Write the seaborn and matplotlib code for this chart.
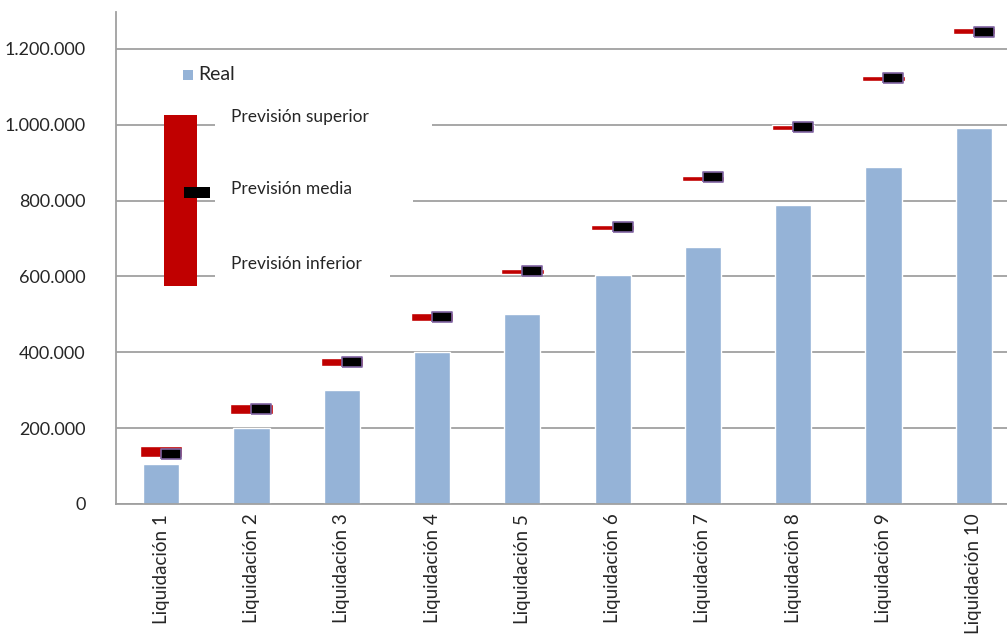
import numpy as np
import pandas as pd
import seaborn as sns
import matplotlib.pyplot as plt
from matplotlib.patches import Rectangle
from matplotlib.ticker import FuncFormatter

# data
categorias = ["Liquidación %d" % i for i in range(1, 11)]
real = [105000, 200000, 300000, 400000, 500000, 605000, 678000, 787000, 888000, 990000]
prev_superior = [153000, 264000, 385000, 504000, 620000, 736000, 865000, 1000000, 1129000, 1255000]
prev_inferior = [124000, 237000, 364000, 483000, 607000, 723000, 852000, 986000, 1115000, 1240000]
prev_media = [133000, 250000, 375000, 493000, 614000, 730000, 861000, 993000, 1122000, 1245000]

df = pd.DataFrame({"cat": categorias, "real": real})

sns.set_style("white")
plt.rcParams['font.family'] = ['Lato', 'DejaVu Sans']

W, H = 1007, 640
fig = plt.figure(figsize=(W / 100, H / 100), dpi=100)
ax = fig.add_axes([116 / W, 1 - 504 / H, (1019 - 116) / W, (504 - 12) / H])

def fx(px):
    return px / W

def fy(py):
    return 1 - py / H

sns.barplot(data=df, x="cat", y="real", color="#95B3D7", saturation=1, width=0.4, ax=ax, zorder=2)

x = np.arange(len(categorias))
alto = np.array(prev_superior) - np.array(prev_inferior)
ax.bar(x, alto, bottom=prev_inferior, width=0.47, color="#C00000", zorder=3)
caja = [(-1, -0.45), (1, -0.45), (1, 0.45), (-1, 0.45), (-1, -0.45)]
ax.plot(x + 0.11, prev_media, linestyle="none", marker=caja, markersize=14.5,
        markerfacecolor="black", markeredgecolor="#8064A2", markeredgewidth=1.2, zorder=4)

ax.set_xlim(-0.5, 9.5)
ax.set_ylim(0, 1297000)
ax.set_yticks(np.arange(0, 1200001, 200000))
ax.yaxis.set_major_formatter(FuncFormatter(lambda v, p: "{:,.0f}".format(v).replace(",", ".")))
ax.yaxis.grid(True, color="#A0A0A0", linewidth=1.3, zorder=0)
ax.set_axisbelow(True)
ax.set_xlabel("")
ax.set_ylabel("")

ax.set_xticks(x)
ax.set_xticklabels(categorias, rotation=90, fontsize=13.5, va="top", ha="center")
ax.tick_params(axis="x", length=0, pad=7)
ax.set_xticks(np.arange(-0.5, 10, 1), minor=True)
ax.tick_params(axis="x", which="minor", length=6, width=1.3, color="#A0A0A0", direction="out")
ax.tick_params(axis="y", labelsize=13, length=8, width=1.3, color="#A0A0A0", direction="inout", pad=18)

for s in ["top", "right"]:
    ax.spines[s].set_visible(False)
for s in ["left", "bottom"]:
    ax.spines[s].set_color("#A0A0A0")
    ax.spines[s].set_linewidth(1.3)

# legend drawn as a small inset
fig.add_artist(Rectangle((fx(215), fy(132)), (432 - 215) / W, 14 / H, facecolor="white", edgecolor="none", zorder=5))
fig.add_artist(Rectangle((fx(215), fy(208)), (413 - 215) / W, 14 / H, facecolor="white", edgecolor="none", zorder=5))
fig.add_artist(Rectangle((fx(215), fy(284)), (390 - 215) / W, 14 / H, facecolor="white", edgecolor="none", zorder=5))
fig.add_artist(Rectangle((fx(164), fy(286)), 33 / W, 171 / H, facecolor="#C00000", edgecolor="none", zorder=6))
fig.add_artist(Rectangle((fx(184), fy(198)), 26 / W, 11 / H, facecolor="black", edgecolor="none", zorder=7))
fig.add_artist(Rectangle((fx(183), fy(80)), 10 / W, 10 / H, facecolor="#95B3D7", edgecolor="none", zorder=6))
fig.text(fx(198), fy(75), "Real", fontsize=14, va="center", ha="left", zorder=8)
fig.text(fx(231), fy(117), "Previsión superior", fontsize=12.5, va="center", ha="left", zorder=8)
fig.text(fx(231), fy(189), "Previsión media", fontsize=12.5, va="center", ha="left", zorder=8)
fig.text(fx(231), fy(264), "Previsión inferior", fontsize=12.5, va="center", ha="left", zorder=8)

fig.savefig("out.png", dpi=100)
